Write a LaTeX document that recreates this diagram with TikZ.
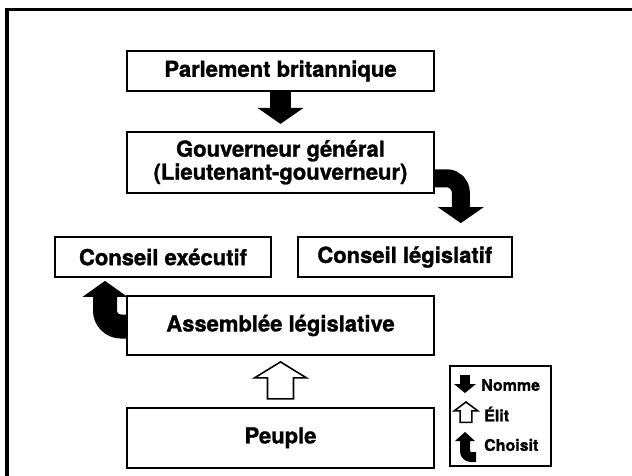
\documentclass[tikz,border=0pt]{standalone}
\usepackage{fontspec}
\setmainfont{TeX Gyre Heros}[BoldFeatures={FakeBold=1.2}]
\usepackage{tikz}
\usetikzlibrary{positioning, arrows.meta}
\tikzset{
x=1pt, y=-1pt, % one unit is one pixel, y runs downwards
box/.style={draw, line width=1.8pt, minimum width=307pt, inner sep=0pt, align=center, font=\bfseries\fontsize{22}{23}\selectfont}, % the boxes of the chart
nomme/.style={line width=21pt, -{Triangle[width=46pt, length=16pt, line width=0pt 0]}}, % solid arrow
legtext/.style={anchor=west, inner sep=0pt, font=\bfseries\fontsize{16}{17}\selectfont}, % texts of the legend
}
\tikzset{
  elit/.pic={\draw[line width=1.6pt, fill=white, line join=miter] (0,0) -- (26,16) -- (13,16) -- (13,37) -- (-13,37) -- (-13,16) -- (-26,16) -- cycle;}
}

\begin{document}
\begin{tikzpicture}
      \useasboundingbox (0,0) rectangle (632,476);
      \draw[line width=3.5pt] (7,476) -- (7,9.5) -- (632,9.5);

      \node[box, minimum height=40pt] (parl) at (280.5,71) {Parlement britannique};
      \node[box, minimum height=61pt, below=39pt of parl] (gouv) {Gouverneur général\\(Lieutenant-gouverneur)};
      \node[box, minimum width=216pt, minimum height=40pt] (cexec) at (163,257) {Conseil exécutif};
      \node[box, minimum width=214pt, minimum height=40pt, right=25pt of cexec] (cleg) {Conseil législatif};
      \node[box, minimum height=59pt] (assem) at (280.5,325.5) {Assemblée législative};
      \node[box, minimum height=60pt, below=51pt of assem] (peuple) {Peuple};
      \node[draw, line width=1.6pt, minimum width=101pt, minimum height=100pt] (legend) at (500.5,416) {};

      \draw[nomme, shorten >=7pt] (parl) -- (gouv);
      \draw[nomme, line width=18pt, rounded corners=14pt, shorten >=13pt] ([yshift=-16pt]gouv.east) -| ([xshift=56pt]cleg.north);
      \draw[nomme, line width=24pt, rounded corners=16pt, -{Triangle[width=45pt, length=16pt, line width=0pt 0]}, shorten >=3pt] ([yshift=-1pt]assem.west) -| ([xshift=-58pt]cexec.south);
      \pic at ([yshift=-6pt]assem.south) {elit};

      % legend
      \node[legtext] (lnomme) at (481,385) {Nomme};
      \node[legtext] (lelit) at (484,414) {Élit};
      \node[legtext] (lchoisit) at (484,445) {Choisit};
      \draw[nomme, line width=10pt, -{Triangle[width=22pt, length=9pt, line width=0pt 0]}] (465,375) -- (465,393);
      \pic[xscale=0.45, yscale=0.55] at (466,402) {elit};
      \draw[nomme, line width=10pt, rounded corners=6pt, -{Triangle[width=20pt, length=9pt, line width=0pt 0]}] (476,457) -| (465,432);
\end{tikzpicture}
\end{document}
